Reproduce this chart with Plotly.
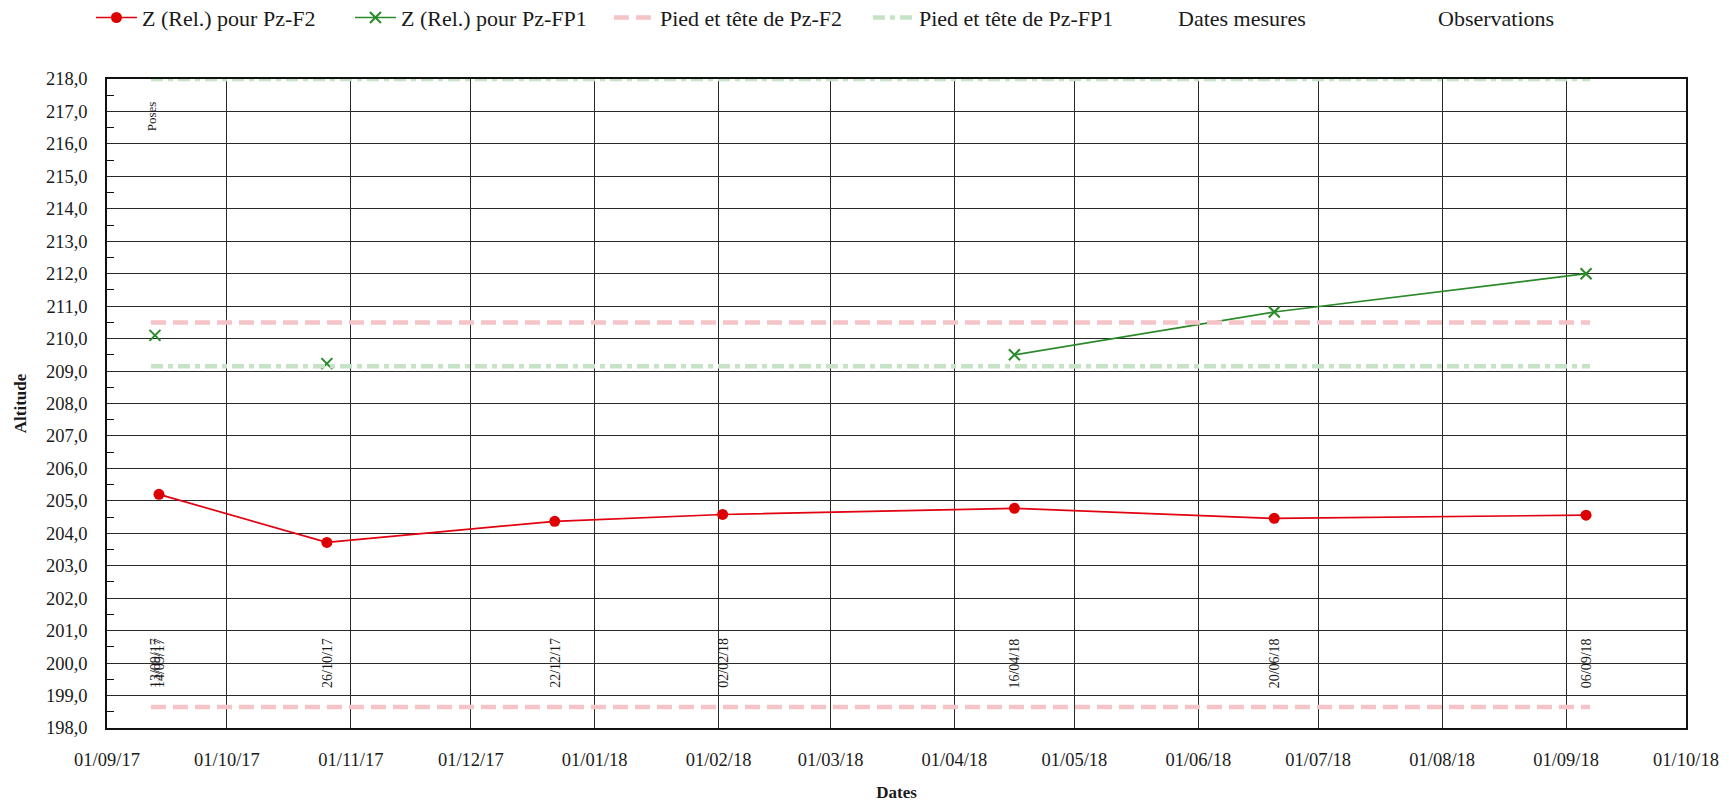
import plotly.graph_objects as go

# ---- data ----
dates = ["2017-09-13", "2017-09-14", "2017-10-26", "2017-12-22",
         "2018-02-02", "2018-04-16", "2018-06-20", "2018-09-06"]
z_f2 = [None, 205.2, 203.72, 204.37, 204.58, 204.77, 204.46, 204.56]
z_fp1 = [210.1, None, 209.23, None, None, 209.5, 210.82, 212.0]

span_dates = ["2017-09-12", "2018-09-07"]
f2_foot, f2_head = 198.65, 210.5
fp1_foot, fp1_head = 209.15, 218.0

date_labels = ["13/09/17", "14/09/17", "26/10/17", "22/12/17",
               "02/02/18", "16/04/18", "20/06/18", "06/09/18"]
label_level = 200.0
obs_date, obs_text, obs_level = "2017-09-12", "Poses", 216.85

FONT = "Liberation Serif"
TXT = "#1a1a1a"

fig = go.Figure()

fig.add_trace(go.Scatter(
    x=dates, y=z_f2, name="Z (Rel.) pour Pz-F2", mode="lines+markers",
    line=dict(color="#e0000f", width=1.7),
    marker=dict(color="#dd0000", size=11, symbol="circle"),
    connectgaps=True))
fig.add_trace(go.Scatter(
    x=dates, y=z_fp1, name="Z (Rel.) pour Pz-FP1", mode="lines+markers",
    line=dict(color="#2a8a2a", width=1.7),
    marker=dict(color="#2a8a2a", size=11, symbol="x-thin",
                line=dict(color="#2a8a2a", width=2)),
    connectgaps=False))

# foot / head lines
fig.add_trace(go.Scatter(
    x=[span_dates[0], span_dates[1], None, span_dates[0], span_dates[1]],
    y=[f2_foot, f2_foot, None, f2_head, f2_head],
    name="Pied et tête de Pz-F2", mode="lines",
    line=dict(color="#f4c4c8", width=4.5, dash="15px,7px")))
fig.add_trace(go.Scatter(
    x=[span_dates[0], span_dates[1], None, span_dates[0], span_dates[1]],
    y=[fp1_foot, fp1_foot, None, fp1_head, fp1_head],
    name="Pied et tête de Pz-FP1", mode="lines",
    line=dict(color="#c6e3c6", width=4.5, dash="12px,5px,5px,5px")))

# empty legend entries
fig.add_trace(go.Scatter(x=[None], y=[None], name="Dates mesures", mode="lines",
                         line=dict(color="rgba(0,0,0,0)", width=0), legend="legend2"))
fig.add_trace(go.Scatter(x=[None], y=[None], name="Observations", mode="lines",
                         line=dict(color="rgba(0,0,0,0)", width=0), legend="legend3"))

# measurement date labels
for d, t in zip(dates, date_labels):
    fig.add_annotation(x=d, y=label_level, text=t, textangle=-90, showarrow=False,
                       font=dict(family=FONT, size=14, color=TXT))
fig.add_annotation(x=obs_date, y=obs_level, text=obs_text, textangle=-90,
                   showarrow=False, font=dict(family=FONT, size=13, color=TXT))

leg_common = dict(orientation="h", xref="container", yref="container",
                  y=0.978, yanchor="middle", xanchor="left",
                  font=dict(family=FONT, size=22, color=TXT),
                  bgcolor="rgba(0,0,0,0)")

fig.update_layout(
    width=1729, height=804,
    margin=dict(l=107, r=43, t=79, b=76, autoexpand=False),
    paper_bgcolor="white", plot_bgcolor="white",
    separators=", ",
    font=dict(family=FONT, size=18, color=TXT),
    showlegend=True,
    legend=dict(x=0.0526, entrywidth=203, itemwidth=41, tracegroupgap=0,
                **leg_common),
    legend2=dict(x=0.6582, **leg_common),
    legend3=dict(x=0.8086, **leg_common),
)

fig.update_xaxes(
    type="date", range=["2017-09-01", "2018-10-01"],
    tick0="2017-09-01", dtick="M1", tickformat="%d/%m/%y",
    showgrid=True, gridcolor="#2a2a2a", gridwidth=1.3,
    showline=True, linecolor="#111", linewidth=1.5, mirror=True,
    ticks="", ticklabelstandoff=14, automargin=False,
    tickfont=dict(family=FONT, size=18.5, color=TXT),
    title=dict(text="<b>Dates</b>", standoff=17,
               font=dict(family=FONT, size=17, color=TXT)),
    zeroline=False)
fig.update_yaxes(
    range=[198, 218], dtick=1, tick0=198, tickformat=".1f",
    showgrid=True, gridcolor="#2a2a2a", gridwidth=1.3,
    showline=True, linecolor="#111", linewidth=1.5, mirror=True,
    ticks="", ticklabelstandoff=14, automargin=False,
    minor=dict(dtick=0.5, ticks="inside", ticklen=7, tickcolor="#111",
               tickwidth=1.3, showgrid=False),
    tickfont=dict(family=FONT, size=18.5, color=TXT),
    title=dict(text="<b>Altitude</b>", standoff=15,
               font=dict(family=FONT, size=17, color=TXT)),
    zeroline=False)

fig.write_html("out.html", config={"displayModeBar": False},
               post_script="document.body.style.margin='0';"
                           "document.body.style.overflow='hidden';")
